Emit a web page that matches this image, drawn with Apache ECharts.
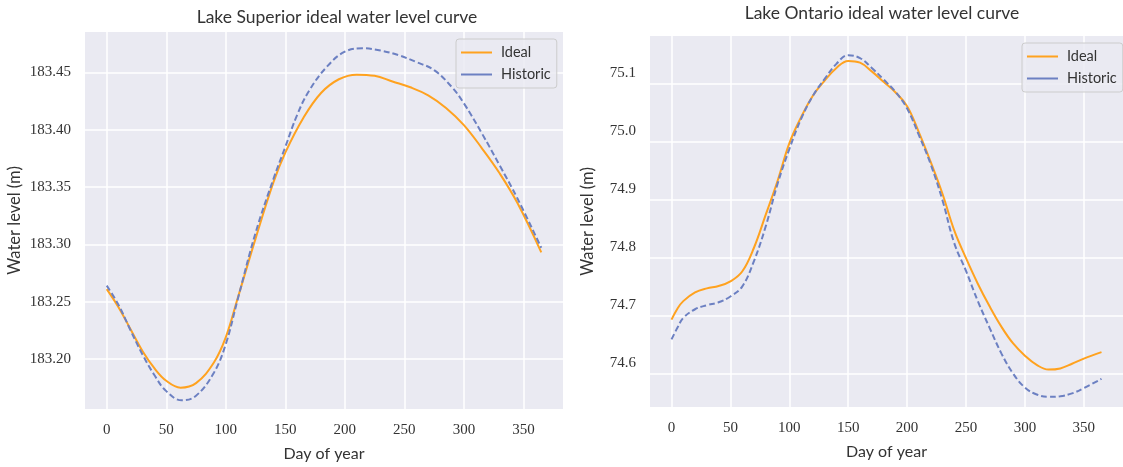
<!DOCTYPE html>
<html>
<head>
<meta charset="utf-8">
<script src="https://cdn.jsdelivr.net/npm/echarts@6/dist/echarts.min.js"></script>
<style>
html,body{margin:0;padding:0;background:#fff;}
#c{width:1123px;height:467px;}
</style>
</head>
<body>
<div id="c"></div>
<script>
// Lake Superior
const supIdealDays = [0,10,20,30,40,50,62,75,90,100,110,125,140,150,165,180,195,210,225,240,255,270,285,300,315,330,345,365];
const supIdeal = [183.261,183.245,183.226,183.207,183.192,183.181,183.175,183.179,183.197,183.219,183.253,183.305,183.354,183.380,183.410,183.432,183.444,183.448,183.447,183.442,183.437,183.430,183.419,183.404,183.384,183.362,183.336,183.293];
const supHistDays = [0,10,20,30,40,50,63,75,90,100,110,125,140,150,160,170,185,200,215,230,245,260,275,290,300,315,330,345,365];
const supHist = [183.264,183.247,183.225,183.204,183.186,183.172,183.164,183.168,183.188,183.213,183.252,183.310,183.357,183.385,183.413,183.434,183.455,183.468,183.471,183.469,183.465,183.459,183.452,183.437,183.423,183.397,183.369,183.340,183.297];
// Lake Ontario
const ontDays = [0,5,10,20,30,40,50,60,70,80,90,100,110,120,130,140,150,160,170,180,190,200,210,220,230,240,250,260,270,280,290,300,310,320,330,340,350,365];
const ontIdeal = [74.694,74.713,74.726,74.741,74.748,74.752,74.760,74.777,74.818,74.875,74.933,74.998,75.043,75.080,75.106,75.128,75.140,75.137,75.122,75.104,75.086,75.062,75.017,74.966,74.911,74.848,74.800,74.756,74.717,74.682,74.653,74.632,74.616,74.608,74.610,74.618,74.627,74.638];
const ontHist = [74.660,74.680,74.697,74.712,74.719,74.724,74.734,74.751,74.795,74.855,74.928,74.988,75.040,75.080,75.109,75.135,75.150,75.145,75.128,75.108,75.087,75.058,75.012,74.962,74.900,74.826,74.778,74.726,74.680,74.636,74.601,74.577,74.565,74.561,74.562,74.567,74.576,74.592];
// ticks
const xTicks = [0,50,100,150,200,250,300,350];
const supTicks = [183.20,183.25,183.30,183.35,183.40,183.45];
const ontTicks = [74.6,74.7,74.8,74.9,75.0,75.1];

const zip = (xs, ys) => xs.map((x,i)=>[x, ys[i]]);
const SANS = 'Lato, "Open Sans", sans-serif';
const SERIF = '"Liberation Serif", "DejaVu Serif", serif';
const TXT = '#333333';
const ORANGE = '#FFA21F';
const BLUE = '#6C80C2';

function xAxis(gi){
  return {
    type:'value', gridIndex:gi, min:-18.25, max:383.25,
    name:'Day of year', nameLocation:'middle', nameGap:37,
    nameTextStyle:{fontFamily:SANS, fontSize:16, color:TXT},
    axisLine:{show:false}, axisTick:{show:false, customValues:xTicks},
    axisLabel:{customValues:xTicks, fontFamily:SERIF, fontSize:15, color:TXT, margin:14},
    splitLine:{show:true, lineStyle:{color:'#ffffff', width:1.5}}
  };
}
function yAxis(gi, min, max, ticks, dec, gap, shifted){
  const lab = {customValues:ticks, fontFamily:SERIF, fontSize:15, color:TXT, margin:14,
      formatter:v=>v.toFixed(dec)};
  if (shifted) { lab.verticalAlign = 'bottom'; lab.lineHeight = 22; }
  return {
    type:'value', gridIndex:gi, min:min, max:max,
    name:'Water level (m)', nameLocation:'middle', nameGap:gap, nameRotate:90,
    nameTextStyle:{fontFamily:SANS, fontSize:16.5, color:TXT},
    axisLine:{show:false}, axisTick:{show:false, customValues:ticks},
    axisLabel:lab,
    splitLine:{show:true, lineStyle:{color:'#ffffff', width:1.5}}
  };
}
function legend(left, top){
  return {
    left:left, top:top, orient:'vertical', icon:'rect', itemWidth:31, itemHeight:2,
    itemGap:7, padding:[6,6,6,5], borderColor:'#cccccc', borderWidth:1, borderRadius:3,
    backgroundColor:'rgba(234,234,242,0.85)',
    textStyle:{fontFamily:SANS, fontSize:14.5, color:TXT, padding:[0,0,0,4]},
    data:['Ideal','Historic']
  };
}
function lineSeries(name, data, xi, color, dashed){
  return {
    type:'line', name:name, data:data, xAxisIndex:xi, yAxisIndex:xi,
    smooth:0.4, showSymbol:false, symbol:'none', silent:true,
    lineStyle:{color:color, width:2, type: dashed ? [6,3] : 'solid'},
    itemStyle:{color:color}
  };
}

const chart = echarts.init(document.getElementById('c'), null, {renderer:'canvas'});
chart.setOption({
  animation:false,
  backgroundColor:'#ffffff',
  title:[
    {text:'Lake Superior ideal water level curve', left:332, top:3, textAlign:'center',
     textStyle:{fontFamily:SANS, fontSize:17.5, fontWeight:'normal', color:TXT}},
    {text:'Lake Ontario ideal water level curve', left:877, top:-1, textAlign:'center',
     textStyle:{fontFamily:SANS, fontSize:17.5, fontWeight:'normal', color:TXT}}
  ],
  grid:[
    {left:85, top:32, right:1123-563, bottom:467-409, backgroundColor:'#EAEAF2', show:true, borderWidth:0},
    {left:650, top:36, right:-7, bottom:467-407, backgroundColor:'#EAEAF2', show:true, borderWidth:0}
  ],
  legend:[legend(456,39), legend(1022,43)],
  xAxis:[xAxis(0), xAxis(1)],
  yAxis:[
    yAxis(0, 183.1564, 183.4852, supTicks, 2, 62, false),
    yAxis(1, 74.5435, 75.183, ontTicks, 1, 54, true)
  ],
  series:[
    lineSeries('Ideal', zip(supIdealDays, supIdeal), 0, ORANGE, false),
    lineSeries('Historic', zip(supHistDays, supHist), 0, BLUE, true),
    lineSeries('Ideal', zip(ontDays, ontIdeal), 1, ORANGE, false),
    lineSeries('Historic', zip(ontDays, ontHist), 1, BLUE, true)
  ]
});
</script>
</body>
</html>
